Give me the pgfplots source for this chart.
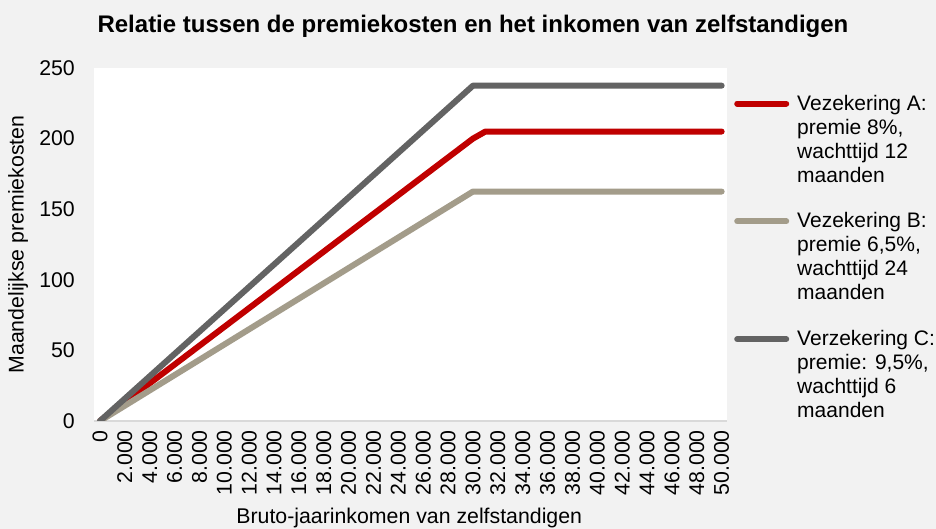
\documentclass[border=0pt]{standalone}
\usepackage{pgfplots}
\pgfplotsset{compat=1.18}
\usepackage{fontspec}
\setmainfont{Liberation Sans}
\definecolor{bgc}{HTML}{F2F2F2}
\definecolor{serA}{HTML}{C00000}
\definecolor{serB}{HTML}{A39C8A}
\definecolor{serC}{HTML}{636363}
\definecolor{axc}{HTML}{D9D9D9}
\newcommand\fsz{\fontsize{21.3bp}{24bp}\selectfont}
\newcommand\lsz{\fontsize{21bp}{24bp}\selectfont}
\begin{document}
\begin{tikzpicture}
\fill[bgc] (0,0) rectangle (936bp,529bp);
\useasboundingbox (0,0) rectangle (936bp,529bp);
\node[font=\fontsize{24bp}{28bp}\selectfont\bfseries] at (473bp,503bp) {Relatie tussen de premiekosten en het inkomen van zelfstandigen};
\begin{axis}[
  at={(94bp,108bp)}, anchor=south west,
  scale only axis, width=633bp, height=353bp,
  xmin=-480, xmax=50430, ymin=0, ymax=250,
  xtick={0,2000,...,50000}, ytick={0,50,...,250},
  scaled x ticks=false,
  axis background/.style={fill=white},
  axis x line*=bottom, axis y line*=left,
  y axis line style={draw=none},
  x axis line style={draw=axc, line width=1.3bp},
  tick style={draw=none},
  tick label style={font=\fsz},
  label style={font=\fsz},
  /pgf/number format/.cd, 1000 sep={.}, assume math mode=true, /pgfplots/.cd,
  xticklabel style={rotate=90, anchor=east, inner sep=0pt},
  xticklabel shift=9bp,
  yticklabel style={anchor=east, inner sep=0pt},
  yticklabel shift=19bp,
  xlabel={Bruto-jaarinkomen van zelfstandigen},
  ylabel={Maandelijkse premiekosten},
  xlabel style={at={(axis description cs:0.498,-0.2748)}, anchor=center, inner sep=0pt},
  ylabel style={at={(axis description cs:-0.12,0.5)}, anchor=center, inner sep=0pt},
  legend style={draw=none, fill=none, inner sep=0pt, font=\lsz, row sep=99.5bp,
     at={(1.0111,0.9286)}, anchor=north west, nodes={inner sep=0pt}},
  legend cell align=left,
  legend image code/.code={\draw[#1, line cap=round] (3bp,-1bp) -- (52bp,-1bp); \path[draw=none,fill=none] (0bp,-1bp) -- (63bp,-1bp);},
  every axis plot/.append style={line width=6bp, line cap=round, line join=round},
]
\addplot[serA] coordinates {(0,0) (30000,200) (31000,205) (50000,205)};
\addlegendentry{{\begin{tabular}[t]{@{}l@{}}Vezekering A:\\premie 8\%,\\wachttijd 12\\maanden\end{tabular}}}
\addplot[serB] coordinates {(0,0) (30000,162.5) (50000,162.5)};
\addlegendentry{{\begin{tabular}[t]{@{}l@{}}Vezekering B:\\premie 6,5\%,\\wachttijd 24\\maanden\end{tabular}}}
\addplot[serC] coordinates {(0,0) (30000,237.5) (50000,237.5)};
\addlegendentry{{\begin{tabular}[t]{@{}l@{}}Verzekering C:\\premie: 9,5\%,\\wachttijd 6\\maanden\end{tabular}}}
\end{axis}
\end{tikzpicture}
\end{document}
